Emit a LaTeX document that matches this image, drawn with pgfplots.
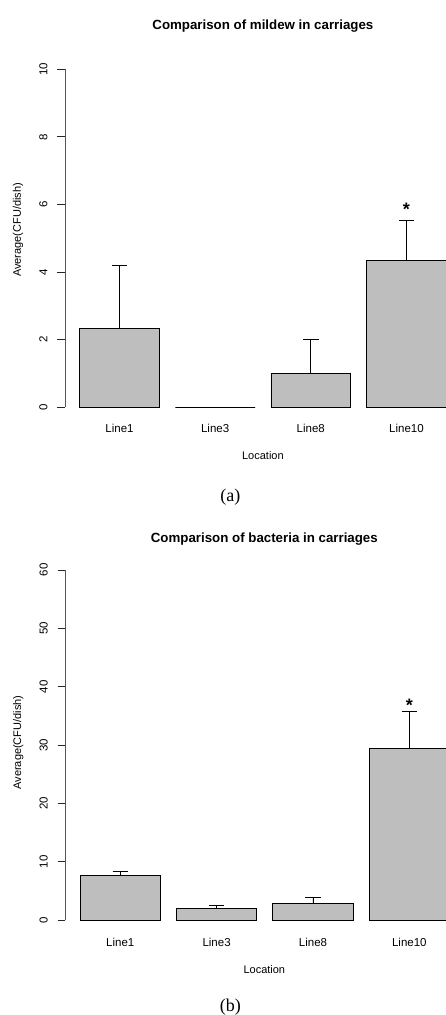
\documentclass[border=0pt]{standalone}
\usepackage{fontspec}
\setmainfont{Liberation Sans}
\newfontfamily\capfont{Liberation Serif}
\usepackage{pgfplots}
\pgfplotsset{compat=1.18}

\definecolor{bargray}{HTML}{BEBEBE}
\definecolor{axgray}{HTML}{555555}

\pgfplotsset{
  rbars/.style={
    scale only axis,
    anchor=south west,
    clip=false,
    xmin=0.016, xmax=4.8,
    axis y line*=left,
    axis x line*=bottom,
    x axis line style={draw=none},
    y axis line style={draw=axgray, line width=1pt},
    tick align=outside,
    major tick length=7.7pt,
    x tick style={draw=none},
    y tick style={draw=black!85, line width=0.9pt},
    xtick={0.7,1.9,3.1,4.3},
    xticklabels={Line1,Line3,Line8,Line10},
    /pgf/number format/assume math mode=true,
    ticklabel style={font=\fontsize{11.5}{13}\selectfont},
    yticklabel style={xshift=-10pt, rotate=90, anchor=base},
    xticklabel style={anchor=base, yshift=-18pt},
    label style={font=\fontsize{11}{13}\selectfont},
    title style={font=\fontsize{13.3}{15}\selectfont\bfseries, anchor=base},
    xlabel={Location},
    ylabel={Average(CFU/dish)},
    ybar, bar width=1, bar shift=0pt,
  },
  rbar plot/.style={
    draw=black, line width=0.9pt, fill=bargray,
    error bars/.cd, y dir=plus, y explicit,
    error bar style={black, line width=0.9pt},
    error mark options={rotate=90, black, line width=0.9pt, mark size=7.7pt},
  },
}

\begin{document}
\begin{tikzpicture}[x=1pt,y=1pt]
\useasboundingbox (0,0) rectangle (446,1015);

% (a) mildew
\begin{axis}[rbars,
    at={(65pt,607.7pt)},
    width=381.3pt, height=338pt,
    ymin=0, ymax=10,
    ytick={0,2,4,6,8,10},
    title={Comparison of mildew in carriages},
    title style={at={(axis description cs:0.519,1)}, yshift=33.3pt},
    xlabel style={at={(axis description cs:0.519,0)}, anchor=base, yshift=-52.7pt},
    ylabel style={at={(axis description cs:-0.1154,0.5246)}, anchor=base},
]
\addplot[rbar plot] coordinates {
  (0.7,2.33) +- (0,1.86)
  (1.9,0)    +- (0,0)
  (3.1,0.99) +- (0,1.02)
  (4.3,4.34) +- (0,1.19)
};
\node[font=\fontsize{18}{18}\selectfont\bfseries] at (axis cs:4.3,5.85) {*};
\end{axis}

% (b) bacteria
\begin{axis}[rbars,
    at={(65.3pt,94.7pt)},
    width=384.2pt, height=350.3pt,
    ymin=0, ymax=60,
    ytick={0,10,20,30,40,50,60},
    title={Comparison of bacteria in carriages},
    title style={at={(axis description cs:0.518,1)}, yshift=21pt},
    xlabel style={at={(axis description cs:0.518,0)}, anchor=base, yshift=-53pt},
    ylabel style={at={(axis description cs:-0.1153,0.5076)}, anchor=base},
]
\addplot[rbar plot] coordinates {
  (0.7,7.64)  +- (0,0.75)
  (1.9,1.99)  +- (0,0.63)
  (3.1,2.91)  +- (0,1.03)
  (4.3,29.4)  +- (0,6.4)
};
\node[font=\fontsize{18}{18}\selectfont\bfseries] at (axis cs:4.3,36.9) {*};
\end{axis}

\node[font=\capfont\fontsize{18}{20}\selectfont, anchor=base] at (230.3,513.5) {(a)};
\node[font=\capfont\fontsize{18}{20}\selectfont, anchor=base] at (230.3,3) {(b)};
\end{tikzpicture}
\end{document}
